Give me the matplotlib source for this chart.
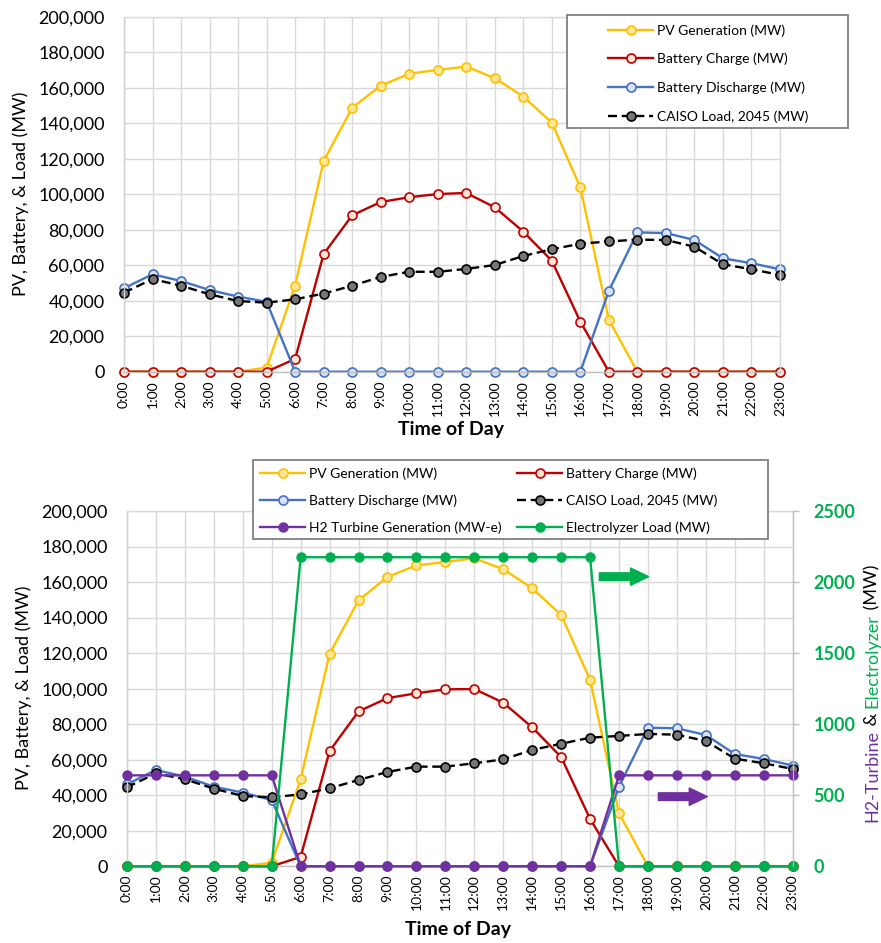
import matplotlib
matplotlib.use("Agg")
import matplotlib.pyplot as plt
from matplotlib.ticker import FuncFormatter, MultipleLocator
from matplotlib.patches import Rectangle

plt.rcParams['font.family'] = ['Lato', 'DejaVu Sans']

hours = [f"{h}:00" for h in range(24)]

# ---- Top chart data ----
top_pv = [0, 0, 0, 0, 0, 2300, 48500, 118700, 148700, 161100, 167900, 170000,
          171900, 165400, 155000, 140300, 103800, 29200, 0, 0, 0, 0, 0, 0]
top_charge = [0, 0, 0, 0, 0, 0, 7200, 66300, 88100, 95600, 98300, 100100,
              100700, 92600, 78900, 62500, 28200, 0, 0, 0, 0, 0, 0, 0]
top_discharge = [47000, 54900, 51100, 46000, 42300, 39400, 0, 0, 0, 0, 0, 0,
                 0, 0, 0, 0, 0, 45600, 78500, 78100, 74200, 63900, 61100, 57700]
top_load = [44500, 52200, 48450, 43600, 39800, 38900, 40800, 44000, 48450, 53400,
            56300, 56300, 57900, 60100, 65200, 69000, 72100, 73400, 74400, 74200,
            70400, 60500, 57700, 54500]

# ---- Bottom chart data ----
bot_pv = [0, 0, 0, 0, 0, 2000, 49000, 119700, 149700, 162900, 169400, 171300,
          173400, 167200, 156500, 141500, 104900, 29800, 0, 0, 0, 0, 0, 0]
bot_charge = [0, 0, 0, 0, 0, 0, 5300, 64900, 87200, 94700, 97400, 99600,
              99800, 92100, 78200, 61500, 26600, 0, 0, 0, 0, 0, 0, 0]
bot_discharge = [46200, 54200, 50500, 44800, 41500, 37300, 0, 0, 0, 0, 0, 0,
                 0, 0, 0, 0, 0, 44800, 78000, 77700, 73900, 63200, 60400, 56700]
bot_load = [44500, 52300, 49000, 43700, 39600, 38800, 40500, 43900, 48600, 53100,
            56100, 56100, 58000, 60200, 65500, 69000, 72400, 73400, 74500, 74100,
            70500, 60600, 58000, 54800]
h2_turbine = [640, 640, 640, 640, 640, 640, 0, 0, 0, 0, 0, 0,
              0, 0, 0, 0, 0, 640, 640, 640, 640, 640, 640, 640]
electrolyzer = [0, 0, 0, 0, 0, 0, 2175, 2175, 2175, 2175, 2175, 2175,
                2175, 2175, 2175, 2175, 2175, 0, 0, 0, 0, 0, 0, 0]

labels = ["PV Generation (MW)", "Battery Charge (MW)", "Battery Discharge (MW)",
          "CAISO Load, 2045 (MW)", "H2 Turbine Generation (MW-e)", "Electrolyzer Load (MW)"]

# arrow annotations (x in hours, y on right axis)
green_arrow = ((16.32, 2038), (18.02, 2038))
purple_arrow = ((18.36, 490), (20.05, 490))

C_PV, C_PVF = '#FFC000', '#FFE699'
C_CH, C_CHF = '#C00000', '#FBE5D6'
C_DIS, C_DISF = '#4472C4', '#DAE3F3'
C_LOAD, C_LOADF = '#000000', '#767676'
C_H2 = '#7030A0'
C_EL = '#00B050'

W, H = 881, 943
fig = plt.figure(figsize=(W / 100, H / 100), dpi=100)

def fx(px):
    return px / W

def fy(py):
    return 1 - py / H

x = list(range(24))

def style_axes(ax):
    ax.set_xlim(0, 23)
    ax.set_ylim(0, 200000)
    ax.yaxis.set_major_locator(MultipleLocator(20000))
    ax.yaxis.set_major_formatter(FuncFormatter(lambda v, p: f"{int(v):,}"))
    ax.set_xticks(x)
    ax.set_xticklabels(hours, rotation=90, fontsize=10)
    ax.tick_params(axis='y', length=0, pad=14, labelsize=13)
    ax.tick_params(axis='x', length=0, pad=6)
    ax.grid(True, color='#d9d9d9', lw=1.0)
    ax.set_axisbelow(True)
    for s in ['top', 'right']:
        ax.spines[s].set_color('#d9d9d9')
    ax.spines['left'].set_color('#d0d0d0')
    ax.spines['bottom'].set_color('#bfbfbf')
    for s in ax.spines.values():
        s.set_linewidth(1.0)

def series(ax, y, color, mfc, label, ls='-'):
    kw = dict(color=color, lw=1.7, marker='o', ms=6.5, mfc=mfc, mec=color,
              mew=1.2, label=label, clip_on=False)
    if ls == '--':
        kw['dashes'] = (3.8, 2.0)
    return ax.plot(x, y, **kw)[0]

LEG_KW = dict(loc='upper left', frameon=False, borderpad=0, borderaxespad=0,
              handlelength=3.24, handletextpad=0.29, fontsize=10)

# ---------------- Top chart ----------------
ax1 = fig.add_axes([fx(124), fy(371.7), fx(780 - 124), (371.7 - 16.7) / H])
style_axes(ax1)
h_pv = series(ax1, top_pv, C_PV, C_PVF, labels[0])
h_ch = series(ax1, top_charge, C_CH, C_CHF, labels[1])
h_dis = series(ax1, top_discharge, C_DIS, C_DISF, labels[2])
h_ld = series(ax1, top_load, C_LOAD, C_LOADF, labels[3], ls='--')

fig.text(fx(21), fy(194), "PV, Battery, & Load (MW)", rotation=90,
         ha='center', va='center', fontsize=13)
fig.text(fx(451), fy(430), "Time of Day", ha='center', va='center',
         fontsize=14, fontweight='bold')

fig.add_artist(Rectangle((fx(567), fy(128)), (848 - 567) / W, (128 - 15) / H,
                         transform=fig.transFigure, facecolor='white',
                         edgecolor='#808080', lw=1.3, zorder=4))
fig.legend([h_pv, h_ch, h_dis, h_ld], labels[:4],
           bbox_to_anchor=(fx(608), fy(24)), labelspacing=1.17, **LEG_KW)

# ---------------- Bottom chart ----------------
ax3 = fig.add_axes([fx(127), fy(866.3), fx(792.7 - 127), (866.3 - 511) / H])
style_axes(ax3)
b_pv = series(ax3, bot_pv, C_PV, C_PVF, labels[0])
b_ch = series(ax3, bot_charge, C_CH, C_CHF, labels[1])
b_dis = series(ax3, bot_discharge, C_DIS, C_DISF, labels[2])
b_ld = series(ax3, bot_load, C_LOAD, C_LOADF, labels[3], ls='--')

ax4 = ax3.twinx()
ax4.set_ylim(0, 2500)
ax4.yaxis.set_major_locator(MultipleLocator(500))
ax4.tick_params(axis='y', length=4, width=1.0, color='#bfbfbf', pad=11,
                labelsize=13, labelcolor=C_EL)
for lab in ax4.get_yticklabels():
    lab.set_fontweight('bold')
for s in ax4.spines.values():
    s.set_visible(False)
ax4.spines['right'].set_visible(True)
ax4.spines['right'].set_color('#bfbfbf')
b_h2 = ax4.plot(x, h2_turbine, color=C_H2, lw=1.7, marker='o', ms=6.5,
                mfc=C_H2, mec=C_H2, label=labels[4], clip_on=False)[0]
b_el = ax4.plot(x, electrolyzer, color=C_EL, lw=1.7, marker='o', ms=6.5,
                mfc=C_EL, mec=C_EL, label=labels[5], clip_on=False)[0]

for (start, end), col in [(green_arrow, C_EL), (purple_arrow, C_H2)]:
    ax4.annotate('', xy=end, xytext=start,
                 arrowprops=dict(arrowstyle='simple,tail_width=0.55,head_width=1.25,head_length=1.3',
                                 color=col, mutation_scale=10, shrinkA=0, shrinkB=0))

fig.text(fx(24), fy(688), "PV, Battery, & Load (MW)", rotation=90,
         ha='center', va='center', fontsize=13)
fig.text(fx(458), fy(930), "Time of Day", ha='center', va='center',
         fontsize=14, fontweight='bold')

# right multi-coloured label
t1 = fig.text(fx(872), fy(822), "H2-Turbine", rotation=90, ha='center',
              va='bottom', fontsize=13, color=C_H2)
t2 = fig.text(0, 0, " & ", rotation=90, ha='center', va='bottom', fontsize=13,
              color='black')
t3 = fig.text(0, 0, "Electrolyzer", rotation=90, ha='center', va='bottom',
              fontsize=13, color=C_EL)
t4 = fig.text(0, 0, " (MW)", rotation=90, ha='center', va='bottom',
              fontsize=13, color='black')
fig.canvas.draw()
r = fig.canvas.get_renderer()
prev = t1
for t in (t2, t3, t4):
    bb = prev.get_window_extent(r)
    t.set_position((fx(872), bb.y1 / fig.bbox.height))
    fig.canvas.draw()
    prev = t

fig.add_artist(Rectangle((fx(253), fy(539)), (768 - 253) / W, (539 - 460) / H,
                         transform=fig.transFigure, facecolor='white',
                         edgecolor='#808080', lw=1.3, zorder=4))
fig.legend([b_pv, b_dis, b_h2], [labels[0], labels[2], labels[4]],
           bbox_to_anchor=(fx(260), fy(467)), labelspacing=1.06, **LEG_KW)
fig.legend([b_ch, b_ld, b_el], [labels[1], labels[3], labels[5]],
           bbox_to_anchor=(fx(517), fy(467)), labelspacing=1.06, **LEG_KW)

fig.savefig("out.png", dpi=100)
